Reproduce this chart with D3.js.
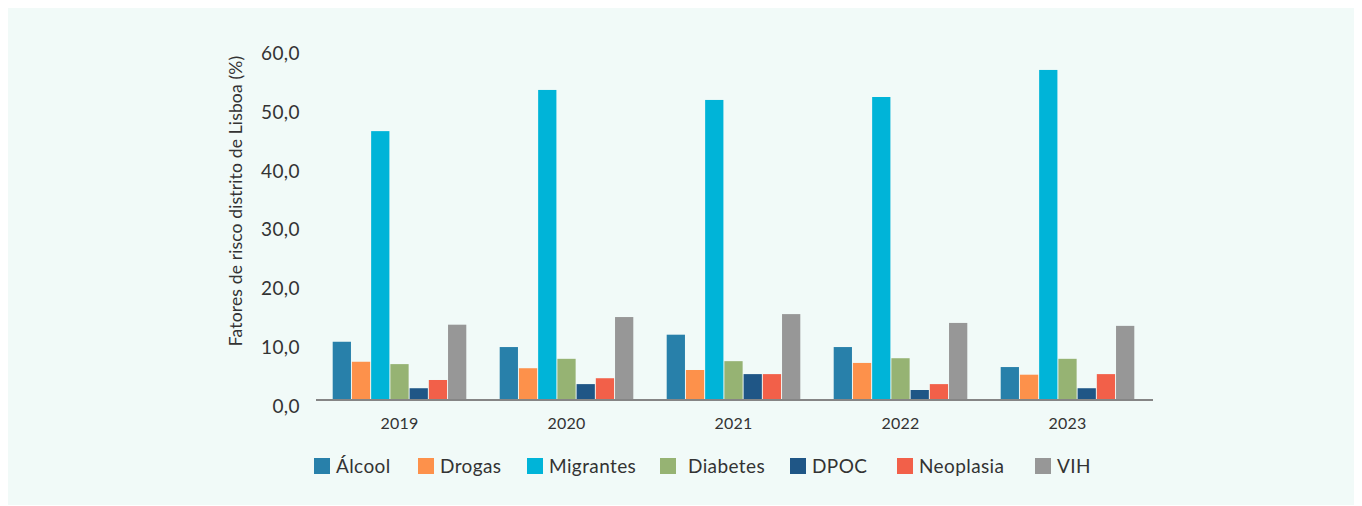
<!DOCTYPE html>
<html><head><meta charset="utf-8">
<script src="https://cdn.jsdelivr.net/npm/d3@7"></script>
<style>
html,body{margin:0;padding:0;background:#ffffff;}
svg{display:block;}
text{font-family:"Lato","Open Sans",sans-serif;fill:#333333;}
</style></head><body>
<svg id="c" width="1362" height="506"></svg>
<script>
const years = ["2019","2020","2021","2022","2023"];
const seriesNames = ["Álcool","Drogas","Migrantes","Diabetes","DPOC","Neoplasia","VIH"];
const alcool    = [9.9, 9.0, 11.1, 9.0, 5.6];
const drogas    = [6.5, 5.4, 5.1, 6.3, 4.3];
const migrantes = [45.7, 52.7, 51.0, 51.5, 56.1];
const diabetes  = [6.1, 7.0, 6.6, 7.1, 7.0];
const dpoc      = [2.0, 2.7, 4.4, 1.7, 2.0];
const neoplasia = [3.4, 3.7, 4.4, 2.7, 4.4];
const vih       = [12.8, 14.1, 14.6, 13.1, 12.6];
const colors = ["#2880aa","#fd914b","#00b4d8","#96b373","#1f5686","#f26049","#979797"];
const yTicks = [0,10,20,30,40,50,60];
const yTitle = "Fatores de risco distrito de Lisboa (%)";

const values = [alcool, drogas, migrantes, diabetes, dpoc, neoplasia, vih];

const svg = d3.select("#c");
svg.append("rect").attr("x",8).attr("y",8).attr("width",1346).attr("height",497).attr("fill","#f1faf8");

const x0 = d3.scaleBand().domain(years).range([316,1151]).paddingInner(0.2).paddingOuter(0.1);
const x1 = d3.scaleBand().domain(seriesNames).range([0,x0.bandwidth()]).paddingInner(0.05);
const y = d3.scaleLinear().domain([0,60]).range([400,47]);

// bars
const g = svg.append("g");
years.forEach((yr,i)=>{
  const gg = g.append("g").attr("transform",`translate(${x0(yr)},0)`);
  gg.selectAll("rect").data(seriesNames.map((s,j)=>({s,v:values[j][i],c:colors[j]})))
    .join("rect")
    .attr("x",d=>x1(d.s)).attr("width",x1.bandwidth())
    .attr("y",d=>y(d.v)).attr("height",d=>y(0)-y(d.v))
    .attr("fill",d=>d.c);
});

// x axis line
svg.append("line").attr("x1",316).attr("x2",1153).attr("y1",400).attr("y2",400)
  .attr("stroke","#858585").attr("stroke-width",2);

// y tick labels
const ya = svg.append("g").attr("transform","translate(300,0)")
  .call(d3.axisLeft(y).tickValues(yTicks).tickSize(0).tickPadding(0)
    .tickFormat(d=>d3.format(".1f")(d).replace(".",",")));
ya.select(".domain").remove();
ya.selectAll("text").attr("font-size",19).attr("dy","0.65em").style("letter-spacing","0.4px")
  .style("font-family","Lato, 'Open Sans', sans-serif").attr("fill","#333");

// x labels
const xa = svg.append("g").attr("transform","translate(0,400)")
  .call(d3.axisBottom(x0).tickSize(0).tickPadding(18));
xa.select(".domain").remove();
xa.selectAll("text").attr("font-size",16).style("letter-spacing","0.2px")
  .style("font-family","Lato, 'Open Sans', sans-serif").attr("fill","#333");

// y title
svg.append("text").attr("transform","translate(242,201) rotate(-90)")
  .attr("text-anchor","middle").attr("font-size",17.5).style("letter-spacing","0.15px").text(yTitle);

// legend
const legX = [314,418,527,660,790,897,1035];
const leg = svg.append("g");
seriesNames.forEach((s,j)=>{
  leg.append("rect").attr("x",legX[j]).attr("y",458).attr("width",16).attr("height",16).attr("fill",colors[j]);
  leg.append("text").attr("x",legX[j]+(j===3?28:22)).attr("y",466).attr("dy","0.36em")
    .attr("font-size",19).style("letter-spacing","0.4px").text(s);
});
</script>
</body></html>
